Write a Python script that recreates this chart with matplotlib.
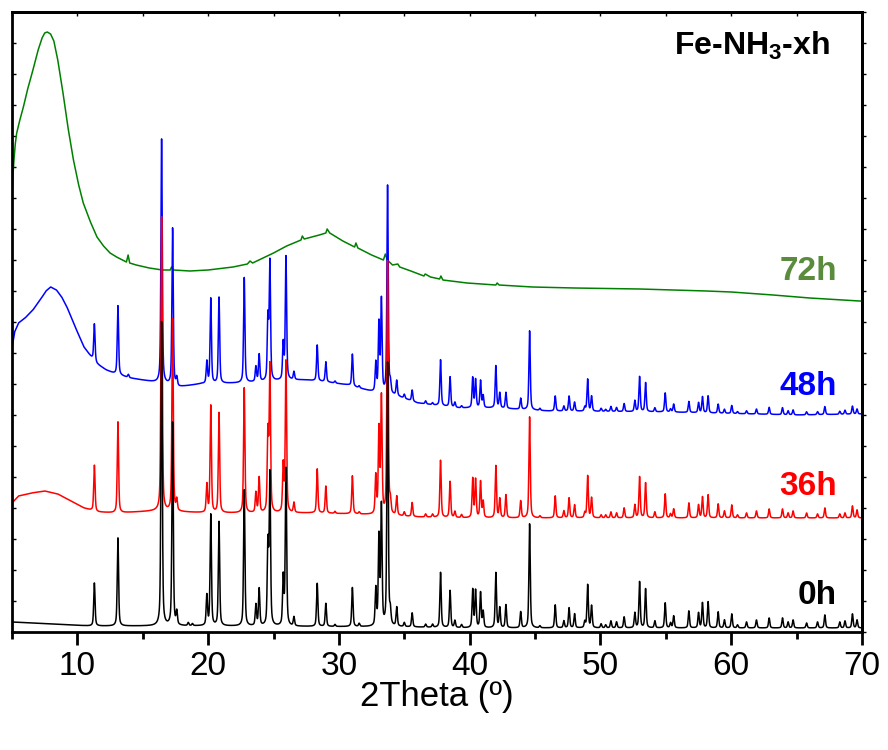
import numpy as np
import matplotlib.pyplot as plt
from matplotlib.ticker import MultipleLocator

plt.rcParams['font.family'] = ['Liberation Sans', 'DejaVu Sans']
plt.rcParams['mathtext.fontset'] = 'custom'
plt.rcParams['mathtext.rm'] = 'Liberation Sans'
plt.rcParams['mathtext.bf'] = 'Liberation Sans:bold'

# reflection positions (2theta, deg) shared by the crystalline samples
peak_pos = [11.30, 13.10, 13.90, 16.44, 17.28, 17.60, 18.48, 18.80, 19.90, 20.20,
            20.83, 22.76, 23.65, 23.90, 24.57, 24.72, 25.74, 25.95, 26.56, 28.34,
            29.00, 29.70, 31.03, 31.55, 32.82, 33.06, 33.25, 33.72, 33.93, 34.42,
            35.00, 35.60, 36.63, 37.16, 37.77, 38.50, 38.87, 39.38, 40.23, 40.45,
            40.83, 41.03, 42.00, 42.30, 42.77, 43.90, 44.58, 45.37, 46.54, 47.20,
            47.60, 48.02, 48.80, 49.02, 49.32, 50.05, 50.40, 50.80, 51.23, 51.81,
            52.63, 52.99, 53.45, 54.16, 54.95, 55.36, 55.60, 56.76, 57.50, 57.80,
            58.23, 59.00, 59.48, 60.04, 60.48, 61.17, 61.93, 62.90, 63.92, 64.35,
            64.73, 65.76, 66.60, 67.16, 68.30, 68.70, 69.27, 69.62]

# peak intensities above background (a.u.)
h_0h = [43, 88, 0, 304, 203, 13, 3, 2, 30, 111,
        104, 136, 21, 37, 80, 150, 48, 157, 9, 43,
        23, 2, 39, 3, 37, 88, 119, 263, 13, 19,
        4, 14, 3, 3, 55, 37, 7, 3, 38, 37,
        35, 16, 55, 20, 23, 16, 104, 2, 23, 7,
        20, 14, 6, 43, 22, 4, 3, 7, 6, 11,
        15, 46, 39, 7, 25, 5, 12, 17, 15, 25,
        26, 16, 8, 14, 3, 6, 8, 10, 10, 6,
        8, 5, 6, 13, 6, 7, 14, 8]
h_36h = [46, 91, 0, 294, 192, 11, 0, 0, 28, 107,
         100, 125, 20, 35, 78, 145, 47, 151, 10, 44,
         27, 2, 38, 2, 38, 84, 116, 253, 12, 19,
         4, 14, 3, 3, 57, 36, 6, 3, 39, 38,
         36, 16, 52, 19, 23, 17, 101, 2, 22, 7,
         20, 13, 5, 42, 20, 3, 3, 6, 5, 10,
         13, 41, 35, 6, 24, 4, 9, 15, 13, 21,
         23, 14, 7, 13, 3, 5, 7, 9, 9, 5,
         7, 5, 4, 10, 4, 5, 12, 8]
h_48h = [37, 69, 3, 244, 157, 8, 0, 0, 22, 85,
         86, 105, 15, 27, 62, 118, 36, 123, 8, 36,
         20, 2, 32, 2, 29, 68, 92, 208, 10, 15,
         4, 11, 3, 2, 46, 30, 5, 2, 30, 28,
         27, 12, 42, 15, 16, 11, 79, 2, 15, 5,
         15, 9, 4, 32, 15, 3, 2, 5, 4, 8,
         11, 35, 29, 4, 19, 3, 8, 11, 10, 16,
         17, 9, 4, 8, 2, 3, 5, 7, 7, 4,
         5, 3, 3, 8, 3, 4, 8, 5]

# backgrounds, stacked with their offsets
bg0_x = [5.0, 8.0, 11.0, 20.0, 35.0, 40.0, 70.0]
bg0_y = [10, 8, 6, 6, 5, 4, 4]
bg36_x = [5.0, 5.5, 6.5, 7.5, 8.5, 9.5, 10.5, 11.5, 13.0, 16.0, 20.0, 28.0,
          31.0, 33.0, 36.0, 40.0, 70.0]
bg36_y = [129, 136, 139, 141, 138, 131, 124, 120, 119, 121, 119, 119,
          118, 117, 115, 114, 114]
bg48_x = [5.0, 5.2, 5.5, 6.0, 6.6, 7.2, 7.6, 7.96, 8.4, 8.8, 9.2, 9.8, 10.5,
          11.0, 11.5, 12.2, 12.9, 14.0, 16.3, 17.8, 19.4, 22.4, 26.3, 27.5,
          29.0, 30.7, 32.6, 34.4, 36.0, 37.2, 39.2, 42.0, 46.0, 55.0, 65.0, 70.0]
bg48_y = [284, 300, 309, 314, 322, 333, 341, 345, 342, 335, 325, 306, 285,
          276, 268, 262, 258, 254, 249, 245, 248, 249, 252, 252,
          250, 247, 240, 236, 229, 227, 224, 224, 221, 220, 217, 218]

# 72h: amorphous, recorded points
tt_72h = [5.0, 5.08, 5.15, 5.25, 5.36, 5.6, 5.87, 6.2, 6.6, 7.0, 7.3, 7.5, 7.7,
          7.95, 8.2, 8.5, 8.9, 9.3, 9.7, 10.1, 10.45, 11.0, 11.5, 12.0, 12.5,
          13.0, 13.75, 13.88, 14.0, 14.5, 15.5, 16.5, 17.1, 17.2, 17.35, 18.6,
          20.0, 21.9, 23.0, 23.2, 23.4, 25.0, 26.0, 27.1, 27.2, 27.35, 28.5,
          29.0, 29.1, 29.3, 30.3, 31.2, 31.3, 31.45, 32.5, 33.4, 33.55, 33.7,
          34.1, 34.5, 34.65, 35.5, 36.5, 36.6, 37.0, 37.7, 37.8, 37.95, 39.8,
          42.0, 42.1, 42.25, 44.8, 48.0, 53.0, 58.1, 60.0, 63.2, 66.0, 69.8, 70.0]
i_72h = [435, 458, 472, 488, 499, 512, 525, 543, 562, 582, 594, 599, 600,
         598, 591, 572, 539, 503, 472, 447, 429, 410, 395, 386, 379,
         375, 370, 377, 369, 367, 364, 362, 362, 365, 362, 361,
         362, 365, 368, 371, 369, 379, 386, 392, 396, 393, 397,
         399, 403, 399, 391, 385, 389, 384, 377, 372, 378, 372,
         367, 368, 365, 361, 356, 358, 355, 353, 356, 352, 349,
         347, 349, 347, 345, 344, 343, 341, 340, 337, 334, 331, 331]

labels = ['0h', '36h', '48h', '72h']
label_colors = ['black', '#ff0000', '#0000ff', '#5b8c3e']
label_y = [28, 137, 237, 352]


def pattern(tt, bg_x, bg_y, heights, fwhm=0.12):
    y = np.interp(tt, bg_x, bg_y).astype(float)
    for p, h in zip(peak_pos, heights):
        if h:
            d = (tt - p) / (fwhm / 2)
            y += h * (0.5 / (1 + d ** 2) + 0.5 * np.exp(-np.log(2) * d ** 2))
    return y


tt = np.arange(5.0, 70.0005, 0.01)

fig = plt.figure(figsize=(8.88, 7.5), dpi=100)
ax = fig.add_axes([12 / 888, 118 / 750, 850 / 888, 620 / 750])

ax.plot(tt_72h, i_72h, color='#008000', lw=1.1)
ax.plot(tt, pattern(tt, bg48_x, bg48_y, h_48h), color='#0000ff', lw=1.1)
ax.plot(tt, pattern(tt, bg36_x, bg36_y, h_36h), color='#ff0000', lw=1.1)
ax.plot(tt, pattern(tt, bg0_x, bg0_y, h_0h), color='black', lw=1.1)

for lab, c, y in zip(labels, label_colors, label_y):
    ax.text(68.07, y, lab, color=c, fontsize=24, fontweight='bold',
            ha='right', va='baseline')
ax.text(67.55, 577, r'Fe-NH$_\mathbf{3}$-xh', fontsize=23, fontweight='bold',
        ha='right', va='baseline')

ax.set_xlim(5, 70)
ax.set_ylim(0, 620)
ax.xaxis.set_major_locator(MultipleLocator(10))
ax.xaxis.set_minor_locator(MultipleLocator(5))
ax.yaxis.set_major_locator(MultipleLocator(31))
ax.tick_params(axis='x', which='major', direction='out', length=9, width=2,
               labelsize=24, pad=5, top=False)
ax.tick_params(axis='x', which='minor', direction='out', length=5, width=2, top=False)
ax.tick_params(axis='y', direction='in', length=3, width=1, labelleft=False)
for s in ax.spines.values():
    s.set_linewidth(2)
ax.set_xlabel('2Theta (º)', fontsize=25, labelpad=-2)

top = ax.secondary_xaxis('top')
top.xaxis.set_major_locator(MultipleLocator(5))
top.tick_params(direction='in', length=3, width=1, labeltop=False)
top.spines['top'].set_linewidth(2)

right = ax.secondary_yaxis('right')
right.yaxis.set_major_locator(MultipleLocator(31))
right.tick_params(direction='out', length=3, width=1, labelright=False)
right.spines['right'].set_linewidth(2)

fig.savefig('out.png', dpi=100)
